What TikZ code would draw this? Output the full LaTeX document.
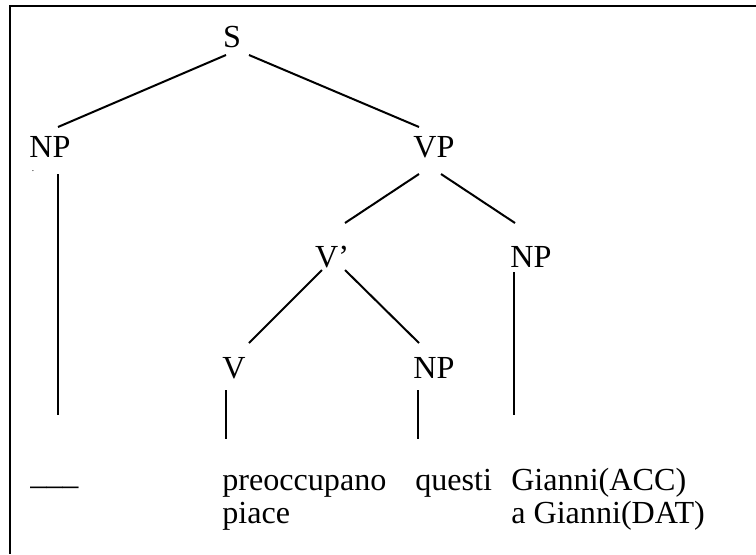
\documentclass[tikz,border=0pt]{standalone}
\usepackage{fontspec}
\setmainfont{Liberation Serif}
\usetikzlibrary{calc}

\begin{document}
\begin{tikzpicture}[x=0.75pt,y=0.75pt,yscale=-1,xscale=1,
  lbl/.style={inner sep=0,anchor=base,font=\fontsize{24.1}{24.75}\selectfont},
  leaf/.style={lbl,anchor=base west,align=left},
  branch/.style={line width=1.5}]
  \useasboundingbox (0,0) rectangle (756,554);
  \draw [line width=2] (756,6) -- (10,6) -- (10,554);

  \node [lbl] (S) at (232,47) {S};
  \node [lbl] (NPsubj) at (50,157) {NP};
  \node [inner sep=0,font=\fontsize{7}{7}\selectfont] (dot) at (33,171) {.};
  \node [lbl] (VP) at (434,157) {VP};
  \node [lbl] (Vbar) at (332,267) {V’};
  \node [lbl] (NPobj) at (531,267) {NP};
  \node [lbl] (V) at (234,378) {V};
  \node [lbl] (NPcomp) at (434,378) {NP};

  % two-line leaves: base is the second line
  \node [leaf] (gap) at (30,484) {\_\_\_};
  \node [leaf] (verb) at (222,523) {preoccupano\\piace};
  \node [leaf] (questi) at (415,490) {questi};
  \node [leaf] (gianni) at (511,523) {Gianni(ACC)\\a Gianni(DAT)};

  \draw [branch] ($(S.base)+(-6,8)$) -- ($(NPsubj.base)+(8,-30)$);
  \draw [branch] ($(S.base)+(17,8)$) -- ($(VP.base)+(-15,-30)$);
  \draw [branch] ($(NPsubj.base)+(8,17)$) -- ($(gap.base west)+(28,-69)$);
  \draw [branch] ($(VP.base)+(-15,17)$) -- ($(Vbar.base)+(13,-44)$);
  \draw [branch] ($(VP.base)+(7,17)$) -- ($(NPobj.base)+(-16,-44)$);
  \draw [branch] ($(NPobj.base)+(-17,5)$) -- ($(gianni.base west)+(3,-108)$);
  \draw [branch] ($(Vbar.base)+(-10,3)$) -- ($(V.base)+(15,-35)$);
  \draw [branch] ($(Vbar.base)+(13,3)$) -- ($(NPcomp.base)+(-15,-35)$);
  \draw [branch] ($(V.base)+(-8,12)$) -- ($(verb.base west)+(4,-84)$);
  \draw [branch] ($(NPcomp.base)+(-16,12)$) -- ($(questi.base west)+(3,-51)$);
\end{tikzpicture}
\end{document}
